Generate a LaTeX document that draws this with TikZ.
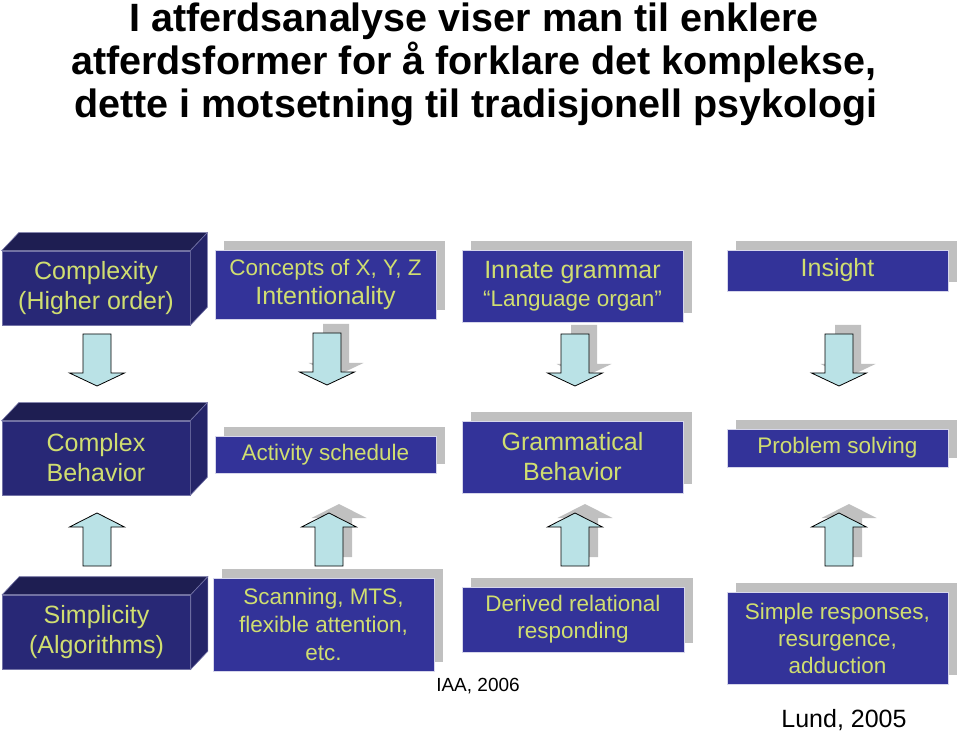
\documentclass[tikz,border=0pt]{standalone}
\usepackage{fontspec}
\setmainfont{Liberation Sans}
\usetikzlibrary{shadows}
\definecolor{boxblue}{RGB}{51,51,153}
\definecolor{shadowgray}{RGB}{192,192,192}
\definecolor{txt}{RGB}{208,222,112}
\definecolor{cubefront}{RGB}{40,40,118}
\definecolor{cubetop}{RGB}{30,30,82}
\definecolor{cubeside}{RGB}{36,36,104}
\definecolor{arrowfill}{RGB}{186,226,230}
\definecolor{arrowshadow}{RGB}{192,192,192}
\begin{document}
\begin{tikzpicture}[x=1pt,y=-1pt,
  flatbox/.style={fill=boxblue, draw=white!80!boxblue, line width=0.8pt, text=txt, align=center, inner sep=0pt,
    drop shadow={shadow xshift=9pt, shadow yshift=9pt, fill=shadowgray, opacity=1}},
  cubebox/.style={fill=cubefront, draw=white!35!cubefront, line width=0.6pt, text=txt, align=center, inner sep=0pt,
    minimum width=188pt, minimum height=74pt},
  bigtext/.style={font=\fontsize{25}{30}\selectfont},
  smalltext/.style={font=\fontsize{22.5}{28}\selectfont},
  titletext/.style={font=\fontsize{39.5}{43}\selectfont\bfseries, anchor=base},
  arrowstyle/.style={fill=arrowfill, draw=black, line width=0.8pt, line join=miter},
  downarrow/.pic={\draw[arrowstyle] (-14,0) -- (-14,39) -- (-27.5,39) -- (0,52) -- (27.5,39) -- (14,39) -- (14,0) -- cycle;},
  downshadow/.pic={\fill[arrowshadow] (-13,0) -- (-13,39) -- (-27.5,39) -- (0,52) -- (27.5,39) -- (13,39) -- (13,0) -- cycle;},
  uparrow/.pic={\draw[arrowstyle] (-14,0) -- (-14,-39) -- (-27.5,-39) -- (0,-53) -- (27.5,-39) -- (14,-39) -- (14,0) -- cycle;},
  upshadow/.pic={\fill[arrowshadow] (-13,0) -- (-13,-39) -- (-27.5,-39) -- (0,-53) -- (27.5,-39) -- (13,-39) -- (13,0) -- cycle;},
]
\useasboundingbox (0,0) rectangle (959,735);

% title
\node[titletext] (t1) at (474,32) {I atferdsanalyse viser man til enklere};
\node[titletext] (t2) at (474,75) {atferdsformer for å forklare det komplekse,};
\node[titletext] (t3) at (476,118) {dette i motsetning til tradisjonell psykologi};

% cubes (left column)
\node[cubebox, bigtext] (k1) at (96,288) {Complexity\\(Higher order)};
\node[cubebox, bigtext] (k2) at (96,458) {Complex\\Behavior};
\node[cubebox, bigtext] (k3) at (96.5,632) {Simplicity\\(Algorithms)};
\foreach \k in {k1,k2,k3}{
  \filldraw[fill=cubetop, draw=white!35!cubefront, line width=0.6pt] (\k.north west) -- ++(17,-18) -- ([shift={(17,-18)}]\k.north east) -- (\k.north east) -- cycle;
  \filldraw[fill=cubeside, draw=white!35!cubefront, line width=0.6pt] (\k.north east) -- ++(17,-18) -- ([shift={(17,-18)}]\k.south east) -- (\k.south east) -- cycle;
}

% row 1
\node[flatbox, minimum width=221pt, minimum height=69pt] (c2) at (325.5,284.5)
  {{\fontsize{22.5}{29}\selectfont Concepts of X, Y, Z}\\[5pt]{\fontsize{25}{29}\selectfont Intentionality}};
\node[flatbox, minimum width=221pt, minimum height=72pt] (c3) at (572.5,286)
  {{\fontsize{25}{30}\selectfont Innate grammar}\\[6pt]{\fontsize{22.5}{30}\selectfont “Language organ”}};
\node[flatbox, bigtext, minimum width=221pt, minimum height=41pt] (c4) at (837.5,270.5) {Insight};

% row 2
\node[flatbox, smalltext, minimum width=221pt, minimum height=37pt] (m2) at (325.5,454.5) {Activity schedule};
\node[flatbox, bigtext, minimum width=221pt, minimum height=72pt] (m3) at (572.5,457) {Grammatical\\Behavior};
\node[flatbox, smalltext, minimum width=221pt, minimum height=38pt] (m4) at (837.5,448) {Problem solving};

% row 3
\node[flatbox, smalltext, minimum width=221pt, minimum height=93pt] (s2) at (323.5,624.5) {Scanning, MTS,\\flexible attention,\\etc.};
\node[flatbox, font=\fontsize{22.5}{27}\selectfont, minimum width=222pt, minimum height=65pt] (s3) at (573,619.5) {Derived relational\\responding};
\node[flatbox, font=\fontsize{22.5}{27}\selectfont, minimum width=221pt, minimum height=92pt] (s4) at (837.5,638) {Simple responses,\\resurgence,\\adduction};

% references
\node[font=\fontsize{19}{22}\selectfont] (iaa) at (478,686) {IAA, 2006};
\node[font=\fontsize{25}{30}\selectfont] (lund) at (844,720) {Lund, 2005};

% arrow shadows
\pic at (336,324) {downshadow};
\pic at (584,325) {downshadow};
\pic at (848,325) {downshadow};
\pic at (339,557) {upshadow};
\pic at (585,557) {upshadow};
\pic at (849,557) {upshadow};

% down arrows
\pic at (97,334) {downarrow};
\pic at (327,333) {downarrow};
\pic at (575,334) {downarrow};
\pic at (839,334) {downarrow};

% up arrows
\pic at (97,566) {uparrow};
\pic at (329,566) {uparrow};
\pic at (575,566) {uparrow};
\pic at (839,566) {uparrow};
\end{tikzpicture}
\end{document}
